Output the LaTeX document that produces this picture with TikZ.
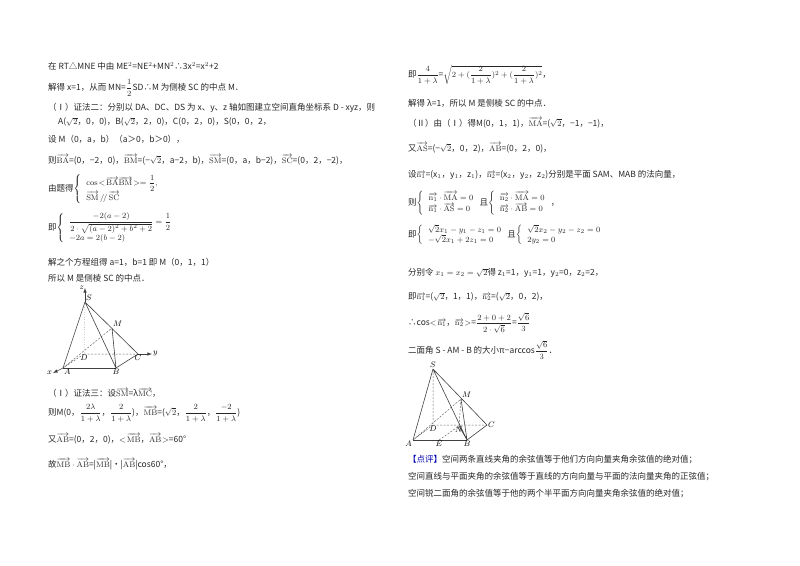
\documentclass[tikz,border=0pt]{standalone}
\usepackage[no-math]{fontspec}
\setmainfont{Noto Sans CJK SC}
\usepackage{amsmath}
\begin{document}
\begin{tikzpicture}[x=1pt,y=-1pt,
  t/.style={anchor=west,inner sep=0pt,font=\fontsize{8.5}{10}\selectfont,text=black!85},
  lbl/.style={inner sep=1pt,font=\fontsize{8}{9}\selectfont},
  edge/.style={line width=0.6pt,black!75},
  hid/.style={line width=0.5pt,black!60,dashed,dash pattern=on 2pt off 1.5pt}]
\useasboundingbox (0,0) rectangle (800,565);
\newcommand{\vv}[1]{\overrightarrow{\mathrm{#1}}}
% left column
\node[t] (l1) at (48,66) {在 RT△MNE 中由 ME$^2$=NE$^2$+MN$^2$∴3x$^2$=x$^2$+2};
\node[t] (l2) at (48,88) {解得 x=1，从而 MN=$\dfrac{1}{2}$SD∴M 为侧棱 SC 的中点 M．};
\node[t] (l3) at (48,108) {（Ⅰ）证法二：分别以 DA、DC、DS 为 x、y、z 轴如图建立空间直角坐标系 D - xyz，则};
\node[t] (l4) at (58,122) {A($\sqrt2$，0，0)，B($\sqrt2$，2，0)，C(0，2，0)，S(0，0，2，};
\node[t] (l5) at (48,139) {设 M（0，a，b）（a＞0，b＞0），};
\node[t] (l6) at (48,160) {则$\vv{BA}$=(0，−2，0)，$\vv{BM}$=(−$\sqrt2$，a−2，b)，$\vv{SM}$=(0，a，b−2)，$\vv{SC}$=(0，2，−2)，};
\node[t] (l7) at (48,189) {由题得$\left\{\begin{array}{l}\cos\!<\!\vv{BA}\vv{BM}\!>=\dfrac12,\\ \vv{SM}\,/\!/\,\vv{SC}\end{array}\right.$};
\node[t] (l8) at (48,228) {即$\left\{\begin{array}{l}\dfrac{-2(a-2)}{2\cdot\sqrt{(a-2)^2+b^2+2}}=\dfrac12\\ -2a=2(b-2)\end{array}\right.$};
\node[t] (l9) at (48,262) {解之个方程组得 a=1，b=1 即 M（0，1，1）};
\node[t] (l10) at (48,278) {所以 M 是侧棱 SC 的中点．};
% figure 1
\coordinate (S1) at (85,302); \coordinate (M1) at (112,328);
\coordinate (D1) at (84,354); \coordinate (C1) at (138,354);
\coordinate (A1) at (63,368); \coordinate (B1) at (116,368);
\coordinate (Z1) at (85,288); \coordinate (Y1) at (152,354); \coordinate (X1) at (53,373);
\draw[hid,dotted] (S1)--(D1);
\draw[hid] (D1)--(A1) (D1)--(C1) (A1)--(M1);
\draw[edge] (S1)--(A1) (S1)--(B1) (S1)--(C1) (M1)--(B1) (B1)--(C1);
\draw[edge,line width=1pt] (A1)--(B1);
\draw[edge,-latex] (S1)--(Z1);
\draw[edge,-latex] (C1)--(Y1);
\draw[edge,-latex] (A1)--(X1);
\node[lbl,anchor=south west] (s1) at (S1) {$S$};
\node[lbl,anchor=east] (z1) at (Z1) {$z$};
\node[lbl,anchor=south west] (m1) at (M1) {$M$};
\node[lbl,anchor=north] (d1) at (D1) {$D$};
\node[lbl,anchor=north] (c1) at (C1) {$C$};
\node[lbl,anchor=west] (y1) at (Y1) {$y$};
\node[lbl,anchor=north west] (a1) at (A1) {$A$};
\node[lbl,anchor=north] (b1) at (B1) {$B$};
\node[lbl,anchor=east] (x1) at (X1) {$x$};
\node[t] (l11) at (48,393) {（Ⅰ）证法三：设$\vv{SM}$=λ$\vv{MC}$，};
\node[t] (l12) at (48,413) {则M(0，$\dfrac{2\lambda}{1+\lambda}$，$\dfrac{2}{1+\lambda}$)，$\vv{MB}$=($\sqrt2$，$\dfrac{2}{1+\lambda}$，$\dfrac{-2}{1+\lambda}$)};
\node[t] (l13) at (48,439) {又$\vv{AB}$=(0，2，0)，$<\!\vv{MB}$，$\vv{AB}\!>$=60°};
\node[t] (l14) at (48,464) {故$\vv{MB}\cdot\vv{AB}$=|$\vv{MB}$|•|$\vv{AB}$|cos60°，};
% right column
\node[t] (r1) at (408,75) {即$\dfrac{4}{1+\lambda}$=$\sqrt{2+(\dfrac{2}{1+\lambda})^2+(\dfrac{2}{1+\lambda})^2}$，};
\node[t] (r2) at (408,103) {解得 λ=1，所以 M 是侧棱 SC 的中点．};
\node[t] (r3) at (408,123) {（Ⅱ）由（Ⅰ）得M(0，1，1)，$\vv{MA}$=($\sqrt2$，−1，−1)，};
\node[t] (r4) at (408,148) {又$\vv{AS}$=(−$\sqrt2$，0，2)，$\vv{AB}$=(0，2，0)，};
\node[t] (r5) at (408,175) {设$\vv{n_1}$=(x$_1$，y$_1$，z$_1$)，$\vv{n_2}$=(x$_2$，y$_2$，z$_2$)分别是平面 SAM、MAB 的法向量，};
\node[t] (r6) at (408,203) {则$\left\{\begin{array}{l}\vv{n_1}\cdot\vv{MA}=0\\ \vv{n_1}\cdot\vv{AS}=0\end{array}\right.$且$\left\{\begin{array}{l}\vv{n_2}\cdot\vv{MA}=0\\ \vv{n_2}\cdot\vv{AB}=0\end{array}\right.$，};
\node[t] (r7) at (408,235) {即$\left\{\begin{array}{l}\sqrt2x_1-y_1-z_1=0\\ -\sqrt2x_1+2z_1=0\end{array}\right.$且$\left\{\begin{array}{l}\sqrt2x_2-y_2-z_2=0\\ 2y_2=0\end{array}\right.$};
\node[t] (r8) at (408,273) {分别令 $x_1=x_2=\sqrt2$得 z$_1$=1，y$_1$=1，y$_2$=0，z$_2$=2，};
\node[t] (r9) at (408,297) {即$\vv{n_1}$=($\sqrt2$，1，1)，$\vv{n_2}$=($\sqrt2$，0，2)，};
\node[t] (r10) at (408,323) {∴cos$<\!\vv{n_1}$，$\vv{n_2}\!>$=$\dfrac{2+0+2}{2\cdot\sqrt6}$=$\dfrac{\sqrt6}{3}$};
\node[t] (r11) at (408,350) {二面角 S - AM - B 的大小π−arccos$\dfrac{\sqrt6}{3}$．};
% figure 2
\coordinate (S2) at (433,369); \coordinate (M2) at (461,399);
\coordinate (D2) at (433,425); \coordinate (C2) at (487,425);
\coordinate (A2) at (413,440); \coordinate (E2) at (439,440);
\coordinate (B2) at (467,440); \coordinate (N2) at (459,426);
\draw[hid] (S2)--(D2) (D2)--(A2) (D2)--(C2) (A2)--(M2) (E2)--(N2) (M2)--(N2);
\draw[edge] (S2)--(A2) (S2)--(B2) (S2)--(C2) (M2)--(B2) (B2)--(C2) (N2)--(B2);
\draw[edge,line width=0.9pt] (A2)--(B2);
\node[lbl,anchor=south] (s2) at (S2) {$S$};
\node[lbl,anchor=south west] (m2) at (M2) {$M$};
\node[lbl,anchor=north] (d2) at (D2) {$D$};
\node[lbl,anchor=west] (c2) at (C2) {$C$};
\node[lbl,anchor=north east] (a2) at (A2) {$A$};
\node[lbl,anchor=north] (e2) at (E2) {$E$};
\node[lbl,anchor=north] (b2) at (B2) {$B$};
\node[lbl,anchor=north] (n2) at (N2) {$N$};
\node[t] (r12) at (408,460) {\textcolor{blue!70!black}{【点评】}空间两条直线夹角的余弦值等于他们方向向量夹角余弦值的绝对值；};
\node[t] (r13) at (408,477) {空间直线与平面夹角的余弦值等于直线的方向向量与平面的法向量夹角的正弦值；};
\node[t] (r14) at (408,494) {空间锐二面角的余弦值等于他的两个半平面方向向量夹角余弦值的绝对值；};
\end{tikzpicture}
\end{document}
